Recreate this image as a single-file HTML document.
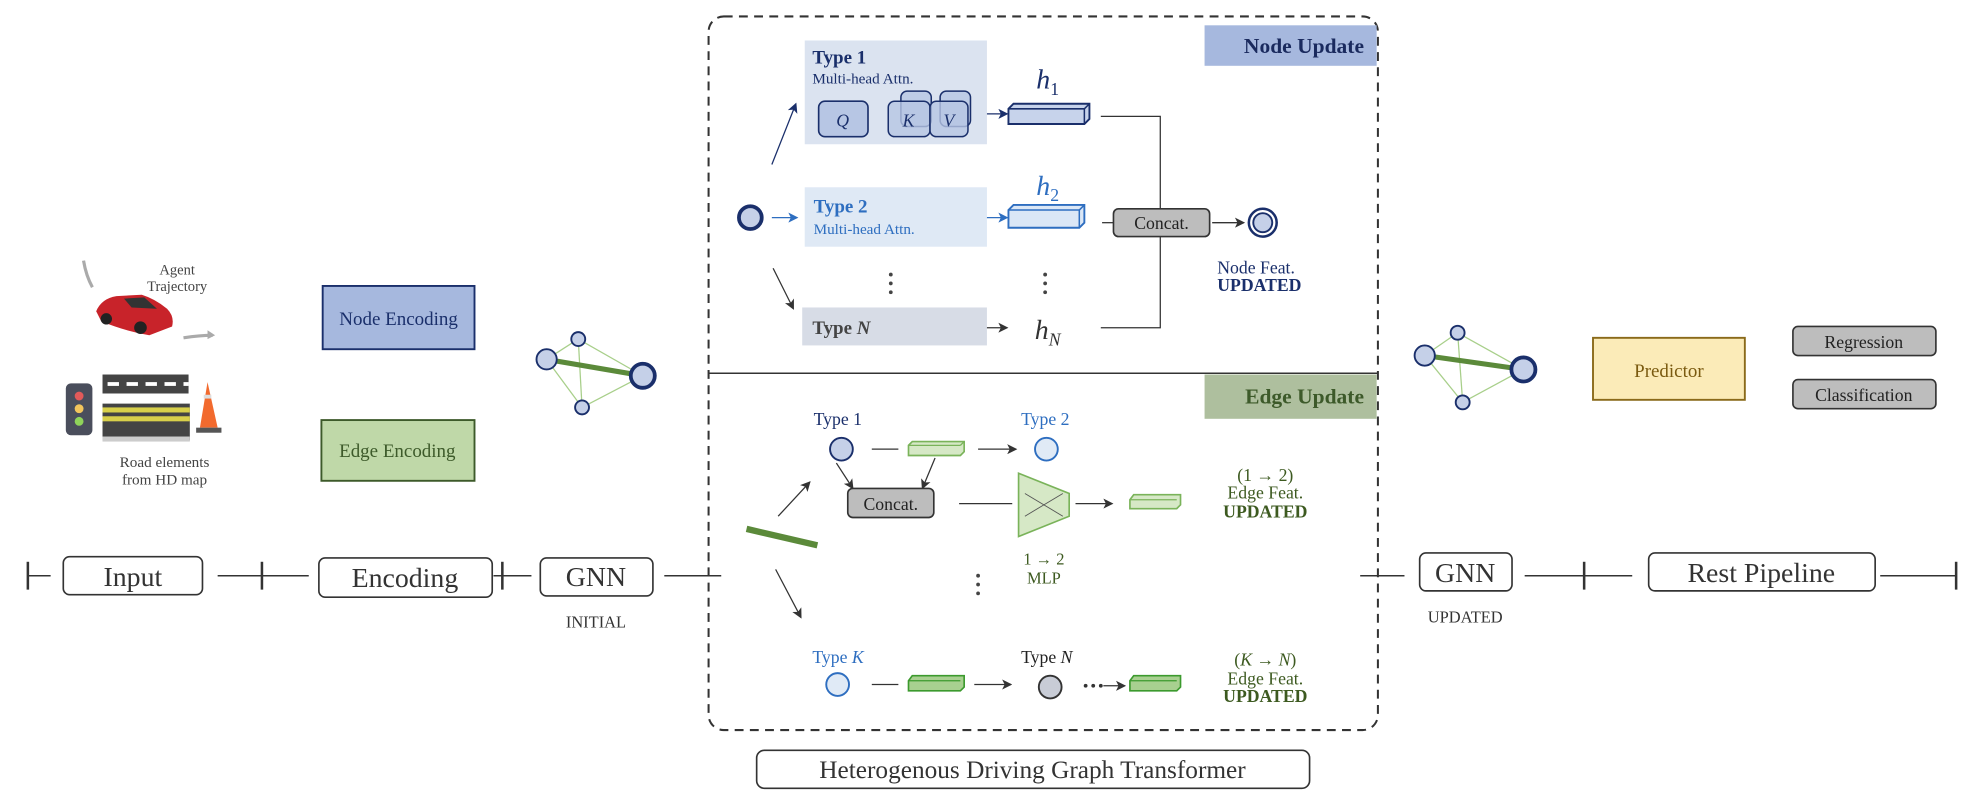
<!DOCTYPE html>
<html><head><meta charset="utf-8"><style>
html,body{margin:0;padding:0;background:#fff;}
svg{display:block;}
text{font-family:"Liberation Serif",serif;}
</style></head><body>
<svg width="1984" height="808" viewBox="0 0 1568 638.6" xmlns="http://www.w3.org/2000/svg">
<defs>
<marker id="ak" markerWidth="8" markerHeight="8" refX="7" refY="4" orient="auto" markerUnits="userSpaceOnUse"><path d="M0,0 L8,4 L0,8 L2,4 Z" fill="#333"/></marker>
<marker id="an" markerWidth="8" markerHeight="8" refX="7" refY="4" orient="auto" markerUnits="userSpaceOnUse"><path d="M0,0 L8,4 L0,8 L2,4 Z" fill="#1a2f6b"/></marker>
<marker id="ab" markerWidth="8" markerHeight="8" refX="7" refY="4" orient="auto" markerUnits="userSpaceOnUse"><path d="M0,0 L8,4 L0,8 L2,4 Z" fill="#2e6ec0"/></marker>
</defs>
<rect width="1568" height="639" fill="#fff"/>

<!-- Dashed box -->
<rect x="560" y="13" width="529" height="564" rx="12" fill="none" stroke="#333" stroke-width="1.6" stroke-dasharray="7,5"/>
<line x1="560" y1="295" x2="1089" y2="295" stroke="#333" stroke-width="1.2"/>
<rect x="952" y="20" width="136" height="32" fill="#a6b8de"/>
<text x="1078" y="42" text-anchor="end" font-size="17" font-weight="bold" fill="#1a2a5e">Node Update</text>
<rect x="952" y="296" width="136" height="35" fill="#aebf9e"/>
<text x="1078" y="319" text-anchor="end" font-size="17" font-weight="bold" fill="#3d5a2a">Edge Update</text>

<!-- Node update -->
<rect x="636" y="32" width="144" height="82" fill="#dbe3f0"/>
<text x="642" y="50" font-size="15" font-weight="bold" fill="#1a2f6b">Type 1</text>
<text x="642" y="66" font-size="12" fill="#1a2f6b">Multi-head Attn.</text>
<rect x="647" y="80" width="39" height="28" rx="5" fill="#b7c6e4" stroke="#1a2f6b" stroke-width="1.3"/>
<text x="666" y="100" text-anchor="middle" font-size="14" font-style="italic" fill="#1a2f6b">Q</text>
<rect x="712" y="72" width="24" height="28" rx="5" fill="#b7c6e4" fill-opacity="0.8" stroke="#1a2f6b" stroke-width="1.2"/>
<rect x="702" y="80" width="33" height="28" rx="5" fill="#b7c6e4" fill-opacity="0.8" stroke="#1a2f6b" stroke-width="1.2"/>
<rect x="743" y="72" width="24" height="28" rx="5" fill="#b7c6e4" fill-opacity="0.8" stroke="#1a2f6b" stroke-width="1.2"/>
<rect x="735" y="80" width="30" height="28" rx="5" fill="#b7c6e4" fill-opacity="0.8" stroke="#1a2f6b" stroke-width="1.2"/>
<text x="718" y="100" text-anchor="middle" font-size="14" font-style="italic" fill="#1a2f6b">K</text>
<text x="750" y="100" text-anchor="middle" font-size="14" font-style="italic" fill="#1a2f6b">V</text>
<line x1="780" y1="90" x2="796" y2="90" stroke="#1a2f6b" stroke-width="1" marker-end="url(#an)"/>
<polygon points="797,86 801,82 861,82 861,94 857,98 797,98" fill="#c7d3eb" stroke="#1a2f6b" stroke-width="1.5"/>
<polyline points="797,86 857,86 857,98 M857,86 861,82" fill="none" stroke="#1a2f6b" stroke-width="1.2"/>
<line x1="857" y1="86" x2="861" y2="82" stroke="#1a2f6b" stroke-width="1.2"/>
<text x="828" y="70" text-anchor="middle" font-size="22" font-style="italic" fill="#1a2f6b" font-family="DejaVu Serif">h<tspan font-size="14" dy="5" font-style="normal">1</tspan></text>
<polyline points="870,92 917,92 917,165" fill="none" stroke="#333" stroke-width="1"/>
<polyline points="870,259 917,259 917,187" fill="none" stroke="#333" stroke-width="1"/>

<rect x="636" y="148" width="144" height="47" fill="#dfe9f5"/>
<text x="643" y="168" font-size="15" font-weight="bold" fill="#2e6ec0">Type 2</text>
<text x="643" y="185" font-size="12" fill="#2e6ec0">Multi-head Attn.</text>
<circle cx="593" cy="172" r="9" fill="#c5d0e8" stroke="#1a2f6b" stroke-width="3"/>
<line x1="610" y1="172" x2="630" y2="172" stroke="#2e6ec0" stroke-width="1" marker-end="url(#ab)"/>
<line x1="610" y1="130" x2="629" y2="82" stroke="#1a2f6b" stroke-width="1" marker-end="url(#an)"/>
<line x1="611" y1="212" x2="627" y2="244" stroke="#333" stroke-width="1" marker-end="url(#ak)"/>
<line x1="780" y1="172" x2="796" y2="172" stroke="#2e6ec0" stroke-width="1" marker-end="url(#ab)"/>
<polygon points="797,166 801,162 857,162 857,176 853,180 797,180" fill="#dbe7f6" stroke="#2e6ec0" stroke-width="1.5"/>
<polyline points="797,166 853,166 853,180" fill="none" stroke="#2e6ec0" stroke-width="1.2"/>
<line x1="853" y1="166" x2="857" y2="162" stroke="#2e6ec0" stroke-width="1.2"/>
<text x="828" y="154" text-anchor="middle" font-size="22" font-style="italic" fill="#2e6ec0" font-family="DejaVu Serif">h<tspan font-size="14" dy="5" font-style="normal">2</tspan></text>
<line x1="871" y1="176" x2="880" y2="176" stroke="#333" stroke-width="1"/>
<rect x="880" y="165" width="76" height="22" rx="4" fill="#bdbdbd" stroke="#333" stroke-width="1.3"/>
<text x="918" y="181" text-anchor="middle" font-size="14" fill="#222">Concat.</text>
<line x1="958" y1="176" x2="983" y2="176" stroke="#333" stroke-width="1" marker-end="url(#ak)"/>
<circle cx="998" cy="176" r="11" fill="#fff" stroke="#1a2f6b" stroke-width="2"/>
<circle cx="998" cy="176" r="7.5" fill="#c5d0e8" stroke="#1a2f6b" stroke-width="1.5"/>
<text x="962" y="216" font-size="14" fill="#1a2f6b">Node Feat.</text>
<text x="962" y="230" font-size="14" font-weight="bold" fill="#1a2f6b">UPDATED</text>
<g fill="#444"><circle cx="704" cy="217" r="1.5"/><circle cx="704" cy="224" r="1.5"/><circle cx="704" cy="231" r="1.5"/>
<circle cx="826" cy="217" r="1.5"/><circle cx="826" cy="224" r="1.5"/><circle cx="826" cy="231" r="1.5"/></g>
<rect x="634" y="243" width="146" height="30" fill="#d7dce6"/>
<text x="642" y="264" font-size="15" font-weight="bold" fill="#444">Type <tspan font-style="italic">N</tspan></text>
<line x1="780" y1="259" x2="796" y2="259" stroke="#333" stroke-width="1" marker-end="url(#ak)"/>
<text x="828" y="268" text-anchor="middle" font-size="22" font-style="italic" fill="#333" font-family="DejaVu Serif">h<tspan font-size="14" dy="5">N</tspan></text>

<!-- Edge update -->
<line x1="590" y1="418" x2="646" y2="431" stroke="#5b8a3a" stroke-width="5"/>
<line x1="615" y1="408" x2="640" y2="381" stroke="#333" stroke-width="1" marker-end="url(#ak)"/>
<line x1="613" y1="450" x2="633" y2="488" stroke="#333" stroke-width="1" marker-end="url(#ak)"/>
<text x="643" y="336" font-size="14" fill="#1a2f6b">Type 1</text>
<circle cx="665" cy="355" r="9" fill="#c5d0e8" stroke="#1a2f6b" stroke-width="1.5"/>
<line x1="689" y1="355" x2="710" y2="355" stroke="#333" stroke-width="1"/>
<polygon points="718,352 721,349 762,349 762,357 759,360 718,360" fill="#d6e8c6" stroke="#7ab35a" stroke-width="1.3"/>
<line x1="718" y1="352" x2="759" y2="352" stroke="#7ab35a" stroke-width="1"/><line x1="759" y1="352" x2="762" y2="349" stroke="#7ab35a"/>
<line x1="773" y1="355" x2="803" y2="355" stroke="#333" stroke-width="1" marker-end="url(#ak)"/>
<text x="807" y="336" font-size="14" fill="#2e6ec0">Type 2</text>
<circle cx="827" cy="355" r="9" fill="#e0eaf6" stroke="#2e6ec0" stroke-width="1.5"/>
<line x1="661" y1="366" x2="674" y2="386" stroke="#333" stroke-width="1" marker-end="url(#ak)"/>
<line x1="739" y1="362" x2="729" y2="386" stroke="#333" stroke-width="1" marker-end="url(#ak)"/>
<rect x="670" y="386" width="68" height="23" rx="4" fill="#bdbdbd" stroke="#333" stroke-width="1.3"/>
<text x="704" y="403" text-anchor="middle" font-size="14" fill="#222">Concat.</text>
<line x1="758" y1="398" x2="800" y2="398" stroke="#333" stroke-width="1"/>
<polygon points="805,374 845,390 845,408 805,424" fill="#d6e8c6" stroke="#7ab35a" stroke-width="1.3"/>
<line x1="810" y1="390" x2="840" y2="408" stroke="#555" stroke-width="0.7"/><line x1="810" y1="408" x2="840" y2="390" stroke="#555" stroke-width="0.7"/>
<line x1="850" y1="398" x2="879" y2="398" stroke="#333" stroke-width="1" marker-end="url(#ak)"/>
<polygon points="893,395 896,391 933,391 933,399 930,402 893,402" fill="#d6e8c6" stroke="#7ab35a" stroke-width="1.3"/>
<line x1="893" y1="395" x2="930" y2="395" stroke="#7ab35a"/>
<text x="825" y="446" text-anchor="middle" font-size="13" fill="#3d5a20">1 → 2</text>
<text x="825" y="461" text-anchor="middle" font-size="13" fill="#3d5a20">MLP</text>
<text x="1000" y="380" text-anchor="middle" font-size="14" fill="#3d5a20">(1 → 2)</text>
<text x="1000" y="394" text-anchor="middle" font-size="14" fill="#3d5a20">Edge Feat.</text>
<text x="1000" y="409" text-anchor="middle" font-size="14" font-weight="bold" fill="#3d5a20">UPDATED</text>
<g fill="#444"><circle cx="773" cy="455" r="1.5"/><circle cx="773" cy="462" r="1.5"/><circle cx="773" cy="469" r="1.5"/></g>

<text x="642" y="524" font-size="14" fill="#2e6ec0">Type <tspan font-style="italic">K</tspan></text>
<circle cx="662" cy="541" r="9" fill="#e0eaf6" stroke="#2e6ec0" stroke-width="1.5"/>
<line x1="689" y1="541" x2="710" y2="541" stroke="#333" stroke-width="1"/>
<polygon points="718,538 721,534 762,534 762,543 759,546 718,546" fill="#a8d090" stroke="#3c9a2e" stroke-width="1.3"/>
<line x1="718" y1="538" x2="759" y2="538" stroke="#3c9a2e"/>
<line x1="770" y1="541" x2="799" y2="541" stroke="#333" stroke-width="1" marker-end="url(#ak)"/>
<text x="807" y="524" font-size="14" fill="#222">Type <tspan font-style="italic">N</tspan></text>
<circle cx="830" cy="543" r="9" fill="#c8ccd6" stroke="#333" stroke-width="1.5"/>
<g fill="#333"><circle cx="858" cy="542" r="1.5"/><circle cx="864" cy="542" r="1.5"/><circle cx="870" cy="542" r="1.5"/></g>
<line x1="872" y1="542" x2="889" y2="542" stroke="#333" stroke-width="1" marker-end="url(#ak)"/>
<polygon points="893,538 896,534 933,534 933,543 930,546 893,546" fill="#a8d090" stroke="#3c9a2e" stroke-width="1.3"/>
<line x1="893" y1="538" x2="930" y2="538" stroke="#3c9a2e"/>
<text x="1000" y="526" text-anchor="middle" font-size="14" fill="#3d5a20">(<tspan font-style="italic">K</tspan> → <tspan font-style="italic">N</tspan>)</text>
<text x="1000" y="541" text-anchor="middle" font-size="14" fill="#3d5a20">Edge Feat.</text>
<text x="1000" y="555" text-anchor="middle" font-size="14" font-weight="bold" fill="#3d5a20">UPDATED</text>

<rect x="598" y="593" width="437" height="30" rx="6" fill="#fff" stroke="#333" stroke-width="1.3"/>
<text x="816" y="615" text-anchor="middle" font-size="20" fill="#333">Heterogenous Driving Graph Transformer</text>

<!-- Timeline -->
<g stroke="#333" stroke-width="1.2" fill="none">
<line x1="22" y1="455" x2="40" y2="455"/><line x1="22" y1="444" x2="22" y2="466" stroke-width="2"/>
<line x1="172" y1="455" x2="244" y2="455"/><line x1="207" y1="444" x2="207" y2="466" stroke-width="2"/>
<line x1="390" y1="455" x2="420" y2="455"/><line x1="397" y1="444" x2="397" y2="466" stroke-width="2"/>
<line x1="525" y1="455" x2="570" y2="455"/>
<line x1="1075" y1="455" x2="1110" y2="455"/>
<line x1="1205" y1="455" x2="1290" y2="455"/><line x1="1252" y1="444" x2="1252" y2="466" stroke-width="2"/>
<line x1="1486" y1="455" x2="1546" y2="455"/><line x1="1546" y1="444" x2="1546" y2="466" stroke-width="2"/>
</g>
<g fill="#fff" stroke="#333" stroke-width="1.3">
<rect x="50" y="440" width="110" height="30" rx="5"/>
<rect x="252" y="441" width="137" height="31" rx="5"/>
<rect x="427" y="441" width="89" height="30" rx="5"/>
<rect x="1122" y="437" width="73" height="30" rx="5"/>
<rect x="1303" y="437" width="179" height="30" rx="5"/>
</g>
<g font-size="22" fill="#333" text-anchor="middle">
<text x="105" y="463">Input</text><text x="320" y="464">Encoding</text><text x="471" y="463">GNN</text>
<text x="1158" y="460">GNN</text><text x="1392" y="460">Rest Pipeline</text>
</g>
<text x="471" y="496" text-anchor="middle" font-size="13" fill="#333">INITIAL</text>
<text x="1158" y="492" text-anchor="middle" font-size="13" fill="#333">UPDATED</text>

<!-- Input icons -->
<path d="M66,206 Q68,218 73,227" stroke="#aaa" stroke-width="2.5" fill="none"/>
<path d="M145,267 Q158,265 168,265" stroke="#aaa" stroke-width="2.5" fill="none"/>
<path d="M164,261 L170,265 L164,268 Z" fill="#aaa"/>
<text x="140" y="217" text-anchor="middle" font-size="11.5" fill="#444">Agent</text>
<text x="140" y="230" text-anchor="middle" font-size="11.5" fill="#444">Trajectory</text>
<path d="M76,246 Q80,236 92,234 L112,233 Q122,236 132,244 Q138,250 136,258 L118,265 Q100,262 80,254 Z" fill="#c8232a"/>
<path d="M98,236 L114,235 L124,244 L104,243 Z" fill="#333"/>
<circle cx="84" cy="252" r="4.5" fill="#222"/><circle cx="111" cy="259" r="5" fill="#222"/>
<rect x="52" y="303" width="21" height="41" rx="4" fill="#4a4e5c"/>
<circle cx="62.5" cy="313" r="3.5" fill="#e25a5a"/><circle cx="62.5" cy="323" r="3.5" fill="#f2c55c"/><circle cx="62.5" cy="333" r="3.5" fill="#8fd35a"/>
<rect x="81" y="296" width="68" height="15" fill="#444"/>
<g fill="#fff"><rect x="85" y="302" width="9" height="3"/><rect x="100" y="302" width="9" height="3"/><rect x="115" y="302" width="9" height="3"/><rect x="130" y="302" width="9" height="3"/><rect x="145" y="302" width="4" height="3"/></g>
<rect x="81" y="319" width="69" height="29" fill="#444"/>
<rect x="81" y="322" width="69" height="4" fill="#d8d04a"/><rect x="81" y="329" width="69" height="4" fill="#d8d04a"/>
<rect x="81" y="345" width="69" height="4" fill="#ccc"/>
<path d="M164,302 L158,338 L172,338 Z" fill="#f26a2e"/><rect x="161" y="312" width="6" height="3" fill="#ddd"/><rect x="155" y="338" width="20" height="4" fill="#555"/>
<text x="130" y="369" text-anchor="middle" font-size="12" fill="#444">Road elements</text>
<text x="130" y="383" text-anchor="middle" font-size="12" fill="#444">from HD map</text>

<rect x="255" y="226" width="120" height="50" fill="#a6b8de" stroke="#1a2f6b" stroke-width="1.5"/>
<text x="315" y="257" text-anchor="middle" font-size="15" fill="#1a2f6b">Node Encoding</text>
<rect x="254" y="332" width="121" height="48" fill="#bfd8a8" stroke="#3d5a2a" stroke-width="1.5"/>
<text x="314" y="361" text-anchor="middle" font-size="15" fill="#3d5a2a">Edge Encoding</text>

<!-- Graphs -->
<g>
<g stroke="#a8cf8a" stroke-width="1"><line x1="432" y1="284" x2="457" y2="268"/><line x1="457" y1="268" x2="508" y2="297"/><line x1="457" y1="268" x2="460" y2="322"/><line x1="432" y1="284" x2="460" y2="322"/><line x1="460" y1="322" x2="508" y2="297"/></g>
<line x1="432" y1="284" x2="508" y2="297" stroke="#5b8a3a" stroke-width="4"/>
<g fill="#c5d0e8" stroke="#1a2f6b"><circle cx="432" cy="284" r="8" stroke-width="1.5"/><circle cx="457" cy="268" r="5.5" stroke-width="1.5"/><circle cx="460" cy="322" r="5.5" stroke-width="1.5"/><circle cx="508" cy="297" r="9.5" stroke-width="3"/></g>
</g>
<g>
<g stroke="#a8cf8a" stroke-width="1"><line x1="1126" y1="281" x2="1152" y2="263"/><line x1="1152" y1="263" x2="1204" y2="292"/><line x1="1152" y1="263" x2="1156" y2="318"/><line x1="1126" y1="281" x2="1156" y2="318"/><line x1="1156" y1="318" x2="1204" y2="292"/></g>
<line x1="1126" y1="281" x2="1204" y2="292" stroke="#5b8a3a" stroke-width="4"/>
<g fill="#c5d0e8" stroke="#1a2f6b"><circle cx="1126" cy="281" r="8" stroke-width="1.5"/><circle cx="1152" cy="263" r="5.5" stroke-width="1.5"/><circle cx="1156" cy="318" r="5.5" stroke-width="1.5"/><circle cx="1204" cy="292" r="9.5" stroke-width="3"/></g>
</g>

<rect x="1259" y="267" width="120" height="49" fill="#fbebb8" stroke="#8a6a1a" stroke-width="1.5"/>
<text x="1319" y="298" text-anchor="middle" font-size="15" fill="#7a5a10">Predictor</text>
<rect x="1417" y="258" width="113" height="23" rx="4" fill="#bdbdbd" stroke="#333" stroke-width="1.3"/>
<text x="1473" y="275" text-anchor="middle" font-size="14" fill="#222">Regression</text>
<rect x="1417" y="300" width="113" height="23" rx="4" fill="#bdbdbd" stroke="#333" stroke-width="1.3"/>
<text x="1473" y="317" text-anchor="middle" font-size="14" fill="#222">Classification</text>
</svg>
</body></html>
